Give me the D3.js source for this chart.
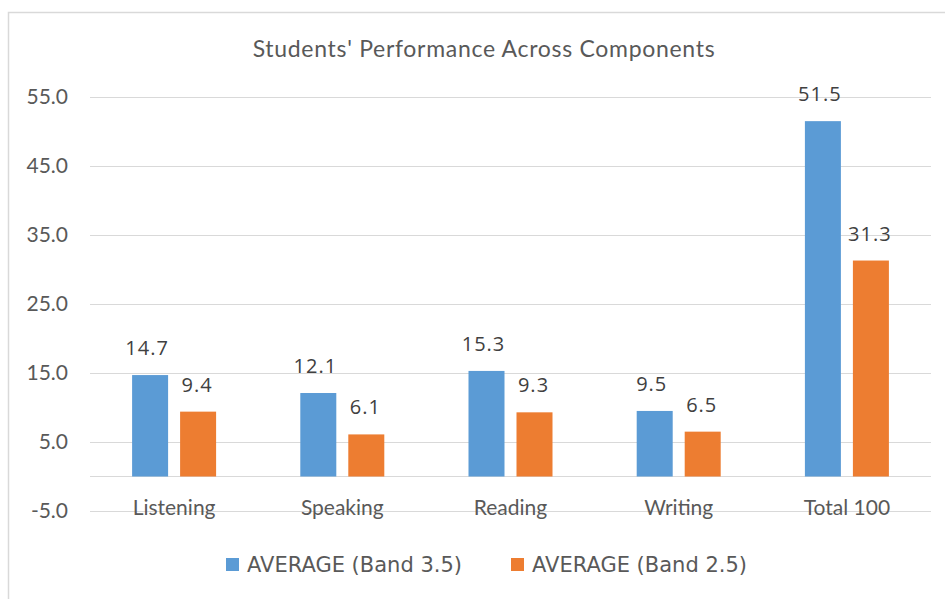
<!DOCTYPE html>
<html>
<head>
<meta charset="utf-8">
<script src="https://cdn.jsdelivr.net/npm/d3@7"></script>
<style>
  html, body { margin: 0; padding: 0; background: #fff; }
  svg { display: block; }
</style>
</head>
<body>
<svg id="chart" width="945" height="599"></svg>
<script>
const title = "Students' Performance Across Components";
const categories = ["Listening", "Speaking", "Reading", "Writing", "Total 100"];
const seriesNames = ["AVERAGE (Band 3.5)", "AVERAGE (Band 2.5)"];
const band35 = [14.7, 12.1, 15.3, 9.5, 51.5];
const band25 = [9.4, 6.1, 9.3, 6.5, 31.3];
const yTicks = [-5, 5, 15, 25, 35, 45, 55];
const colors = ["#5b9bd5", "#ed7d31"];

const fmt = d => d3.format(".1f")(d).replace("\u2212", "-");
const svg = d3.select("#chart");

// chart border
svg.append("rect")
  .attr("x", 8.5).attr("y", 12.5)
  .attr("width", 1000).attr("height", 1000)
  .attr("fill", "#fff").attr("stroke", "#d9d9d9").attr("stroke-width", 1.5);

const plot = { left: 90, right: 931 };
const y = d3.scaleLinear().domain([-5, 55]).range([511, 97]);
const x = d3.scaleBand().domain(categories).range([plot.left, plot.right]).paddingInner(0).paddingOuter(0);
const bw = x.bandwidth();
const barW = 36, gap = 12;
const xSub = d3.scaleOrdinal().domain([0, 1]).range([
  (bw - (2 * barW + gap)) / 2,
  (bw - (2 * barW + gap)) / 2 + barW + gap
]);

// title
svg.append("text")
  .attr("x", 484).attr("y", 57)
  .attr("text-anchor", "middle")
  .attr("font-family", "Lato, 'Open Sans', sans-serif")
  .attr("font-size", 23)
  .attr("letter-spacing", 0.7)
  .attr("fill", "#595959")
  .text(title);

// gridlines + y labels via axis
const yAxis = d3.axisLeft(y).tickValues(yTicks).tickFormat(fmt)
  .tickSize(-(plot.right - plot.left)).tickPadding(22);
const gy = svg.append("g").attr("transform", `translate(${plot.left},0)`).call(yAxis);
gy.select(".domain").remove();
gy.selectAll(".tick line").attr("stroke", "#d9d9d9").attr("stroke-width", 1.2);
gy.selectAll(".tick text")
  .attr("font-family", "Lato, 'Open Sans', sans-serif")
  .attr("font-size", 21)
  .attr("fill", "#595959");

// zero axis line
svg.append("line")
  .attr("x1", plot.left).attr("x2", plot.right)
  .attr("y1", y(0)).attr("y2", y(0))
  .attr("stroke", "#d9d9d9").attr("stroke-width", 1.2);

// bars
const series = [band35, band25];
series.forEach((vals, si) => {
  const g = svg.append("g");
  g.selectAll("rect").data(vals).enter().append("rect")
    .attr("x", (d, i) => x(categories[i]) + xSub(si))
    .attr("y", d => y(Math.max(0, d)))
    .attr("width", barW)
    .attr("height", d => Math.abs(y(d) - y(0)))
    .attr("fill", colors[si]);
  g.selectAll("text").data(vals).enter().append("text")
    .attr("x", (d, i) => x(categories[i]) + xSub(si) + barW / 2 - (si === 0 ? 3 : 1))
    .attr("y", d => y(d) - 20)
    .attr("text-anchor", "middle")
    .attr("font-family", "'Open Sans', 'Noto Sans', sans-serif")
    .attr("font-size", 20)
    .attr("letter-spacing", 1)
    .attr("fill", "#404040")
    .text(fmt);
});

// category labels
svg.append("g").selectAll("text").data(categories).enter().append("text")
  .attr("x", d => x(d) + bw / 2)
  .attr("y", 515)
  .attr("text-anchor", "middle")
  .attr("font-family", "Lato, 'Open Sans', sans-serif")
  .attr("font-size", 21)
  .attr("fill", "#595959")
  .text(d => d);

// legend
const legendX = [226, 511];
const lg = svg.append("g");
seriesNames.forEach((name, i) => {
  lg.append("rect")
    .attr("x", legendX[i]).attr("y", 558)
    .attr("width", 13).attr("height", 13)
    .attr("fill", colors[i]);
  lg.append("text")
    .attr("x", legendX[i] + 21).attr("y", 572)
    .attr("font-family", "'DejaVu Sans', sans-serif")
    .attr("font-size", 21)
    .attr("fill", "#595959")
    .text(name);
});
</script>
</body>
</html>
